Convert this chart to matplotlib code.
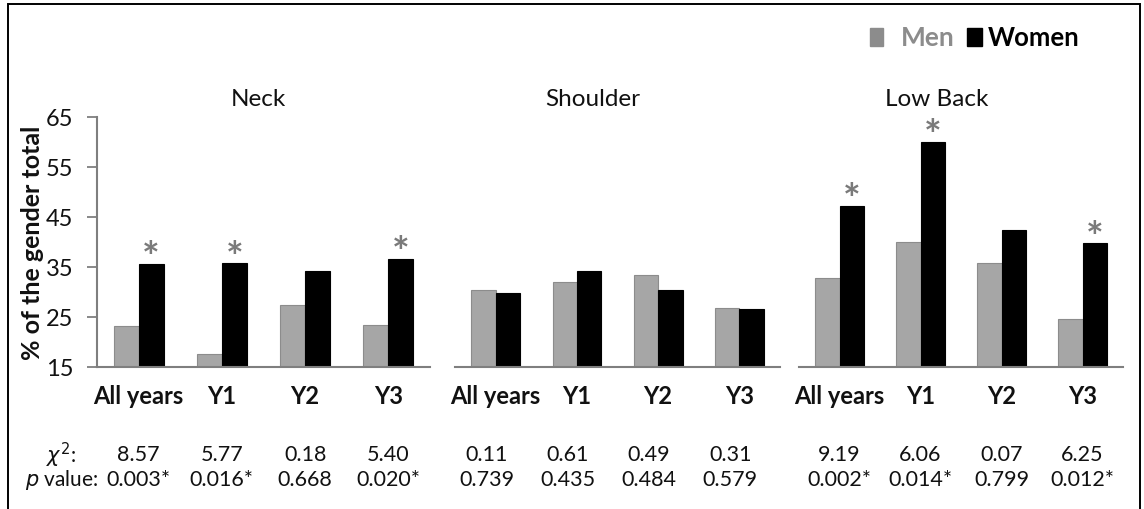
import matplotlib
matplotlib.use("Agg")
import matplotlib.pyplot as plt
from matplotlib.transforms import blended_transform_factory, offset_copy
from matplotlib.patches import Rectangle

plt.rcParams['font.family'] = ['Lato', 'DejaVu Sans']
plt.rcParams['mathtext.fontset'] = 'dejavusans'

# ---------------- data ----------------
regions = ["Neck", "Shoulder", "Low Back"]
periods = ["All years", "Y1", "Y2", "Y3"]
men = [
    [23.3, 17.7, 27.4, 23.4],   # Neck
    [30.5, 32.1, 33.5, 26.8],   # Shoulder
    [32.8, 40.1, 35.9, 24.7],   # Low Back
]
women = [
    [35.7, 35.9, 34.3, 36.7],
    [29.9, 34.3, 30.5, 26.6],
    [47.3, 60.1, 42.4, 39.9],
]
chi2 = [
    ["8.57", "5.77", "0.18", "5.40"],
    ["0.11", "0.61", "0.49", "0.31"],
    ["9.19", "6.06", "0.07", "6.25"],
]
pvals = [
    ["0.003*", "0.016*", "0.668", "0.020*"],
    ["0.739", "0.435", "0.484", "0.579"],
    ["0.002*", "0.014*", "0.799", "0.012*"],
]
significant = [
    [True, True, False, True],
    [False, False, False, False],
    [True, True, False, True],
]
yticks = [15, 25, 35, 45, 55, 65]
ylabel = "% of the gender total"

# ---------------- layout ----------------
W, H = 1144, 510
fig = plt.figure(figsize=(W / 100, H / 100), dpi=100)

def fx(px):
    return px / W

def fy(py):
    return 1 - py / H

MEN_C = "#a6a6a6"
MEN_E = "#8c8c8c"
AX_C = "#7f7f7f"
STAR_C = "#7a7a7a"
TXT_C = "#111111"

# figure border
fig.patches.append(Rectangle((fx(8), fy(515)), fx(1140) - fx(8), fy(5) - fy(515),
                             transform=fig.transFigure, fill=False,
                             edgecolor="black", linewidth=1.4))

ax_px = [(97, 430), (455, 780), (799, 1123)]
title_px = [258, 593, 937]
text_off_px = [0, -9, 0]
y_base, y_top = 368, 118

for i, (x0, x1) in enumerate(ax_px):
    ax = fig.add_axes([fx(x0), fy(y_base), fx(x1) - fx(x0), fy(y_top) - fy(y_base)])
    xs = list(range(len(periods)))
    bw = 0.3
    ax.bar([x - bw / 2 for x in xs], men[i], bw, color=MEN_C,
           edgecolor=MEN_E, linewidth=0.8, zorder=2)
    ax.bar([x + bw / 2 for x in xs], women[i], bw, color="black",
           edgecolor="black", linewidth=0.8, zorder=2)
    ax.set_xlim(-0.5, 3.5)
    ax.set_ylim(15, 65)
    for s in ["top", "right"]:
        ax.spines[s].set_visible(False)
    ax.spines["bottom"].set_color(AX_C)
    ax.spines["bottom"].set_linewidth(1.5)
    ax.set_xticks(xs)
    ax.set_xticklabels(periods, fontsize=17, fontweight="bold", color=TXT_C)
    ax.tick_params(axis="x", length=0, pad=12)
    if i == 0:
        ax.spines["left"].set_color(AX_C)
        ax.spines["left"].set_linewidth(1.5)
        ax.set_yticks(yticks)
        ax.set_yticklabels([str(t) for t in yticks], fontsize=17, color=TXT_C)
        ax.tick_params(axis="y", length=7, width=1.3, color=AX_C, pad=10)
        ax.set_ylabel(ylabel, fontsize=18, fontweight="bold", labelpad=1,
                      color=TXT_C)
    else:
        ax.spines["left"].set_visible(False)
        ax.set_yticks([])
    for xi, sig in enumerate(significant[i]):
        if sig:
            ax.text(xi + bw / 2, women[i][xi] - 1.6, "*", ha="center",
                    va="baseline", fontsize=30, fontweight="bold",
                    color=STAR_C, zorder=3)
    fig.text(fx(title_px[i]), fy(100), regions[i], ha="center", va="center",
             fontsize=17.5, color=TXT_C)
    tr = blended_transform_factory(ax.transData, fig.transFigure)
    tr = offset_copy(tr, fig=fig, x=text_off_px[i] * 0.72, y=0, units="points")
    for xi in xs:
        fig.text(xi, fy(455), chi2[i][xi], transform=tr, ha="center",
                 va="center", fontsize=15.5, color=TXT_C)
        fig.text(xi, fy(480), pvals[i][xi], transform=tr, ha="center",
                 va="center", fontsize=15.5, color=TXT_C)

fig.text(fx(61), fy(455), r"$\chi^2$:", ha="center", va="center",
         fontsize=15, color=TXT_C)
fig.text(fx(62), fy(480), r"$p$ value:", ha="center", va="center",
         fontsize=15, color=TXT_C)

# legend
fig.patches.append(Rectangle((fx(870), fy(47)), fx(883) - fx(870), fy(29) - fy(47),
                             transform=fig.transFigure, color="#8c8c8c"))
fig.text(fx(901), fy(38), "Men", ha="left", va="center", fontsize=19,
         fontweight="bold", color="#8c8c8c")
fig.patches.append(Rectangle((fx(967), fy(47)), fx(982) - fx(967), fy(29) - fy(47),
                             transform=fig.transFigure, color="black"))
fig.text(fx(988), fy(38), "Women", ha="left", va="center", fontsize=18.5,
         fontweight="bold", color="black")

fig.savefig("out.png", dpi=100)
